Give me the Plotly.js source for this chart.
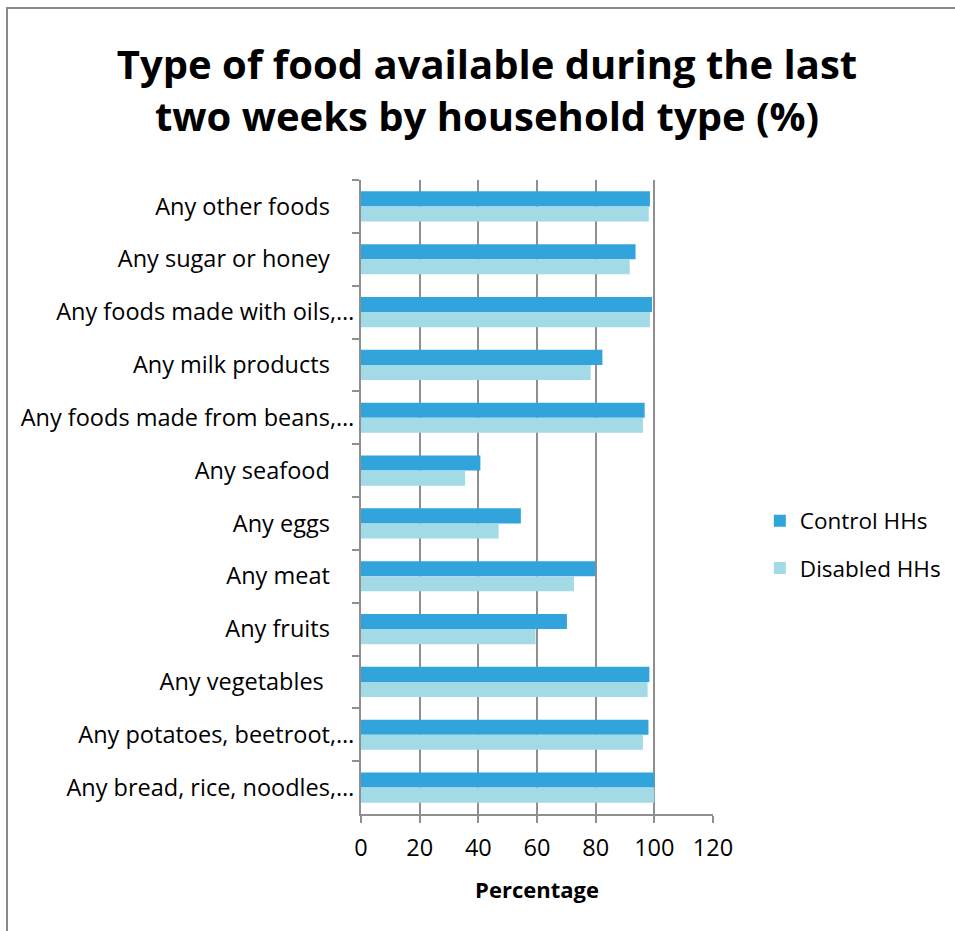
<!DOCTYPE html>
<html>
<head>
<meta charset="utf-8">
<script src="https://cdn.plot.ly/plotly-3.0.1.min.js"></script>
<style>
  html, body { margin: 0; padding: 0; background: #ffffff; }
  #chart { position: absolute; left: 0; top: 0; width: 955px; height: 931px; }
  #frame { position: absolute; left: 6px; top: 7px; width: 1000px; height: 1000px;
           border-left: 2px solid #8a8a8a; border-top: 2px solid #8a8a8a; pointer-events: none; }
</style>
</head>
<body>
<div id="chart"></div>
<div id="frame"></div>
<script>
// Categories listed top to bottom as in the reference
const NB = '\u00a0';
const categories = [
  'Any other foods' + NB.repeat(4),
  'Any sugar or honey' + NB.repeat(4),
  'Any foods made with oils,\u2026',
  'Any milk products' + NB.repeat(4),
  'Any foods made from beans,\u2026',
  'Any seafood' + NB.repeat(4),
  'Any eggs' + NB.repeat(4),
  'Any meat' + NB.repeat(4),
  'Any fruits' + NB.repeat(4),
  'Any vegetables' + NB.repeat(5),
  'Any potatoes, beetroot,\u2026',
  'Any bread, rice, noodles,\u2026'
];
const controlHHs  = [98.5, 93.6, 99.2, 82.3, 96.7, 40.7, 54.5, 79.9, 70.2, 98.3, 98.0, 100];
const disabledHHs = [98.1, 91.6, 98.5, 78.3, 96.1, 35.5, 46.9, 72.6, 59.5, 97.7, 96.1, 100];
const seriesNames = ['Control HHs', 'Disabled HHs'];
const xTicks = [0, 20, 40, 60, 80, 100, 120];

const FONT = '"Open Sans", Lato, sans-serif';
const GRID = '#8f8f8f';

const traces = [
  { type: 'bar', orientation: 'h', name: seriesNames[0], y: categories, x: controlHHs,
    marker: { color: '#31a4dc' }, legendgroup: 'a', hoverinfo: 'x+y' },
  { type: 'bar', orientation: 'h', name: seriesNames[1], y: categories, x: disabledHHs,
    marker: { color: '#a2dae6' }, legendgroup: 'b', hoverinfo: 'x+y' }
];

const layout = {
  width: 955, height: 931,
  paper_bgcolor: 'rgba(0,0,0,0)', plot_bgcolor: '#ffffff',
  margin: { l: 361, r: 242, t: 180, b: 117, pad: 0, autoexpand: false },
  font: { family: FONT, color: '#000000', size: 22 },
  title: {
    text: 'Type of food available during the last<br>two weeks by household type (%)',
    font: { family: FONT, size: 40, color: '#000000', weight: 'bold' },
    x: 0.51, xanchor: 'center', xref: 'container',
    y: 0.915, yanchor: 'middle', yref: 'container'
  },
  barmode: 'group', bargap: 0.43, bargroupgap: 0,
  xaxis: {
    range: [0, 120], tickvals: xTicks, ticktext: xTicks.map(String),
    showgrid: true, gridcolor: GRID, gridwidth: 2,
    zeroline: false, showline: true, linecolor: GRID, linewidth: 2,
    ticks: 'outside', ticklen: 7, tickwidth: 2, tickcolor: GRID,
    ticklabelstandoff: 5,
    tickfont: { family: FONT, size: 23.5, color: '#000000' },
    title: { text: 'Percentage', font: { family: FONT, size: 22, color: '#000000', weight: 'bold' }, standoff: 20 },
    fixedrange: true
  },
  yaxis: {
    type: 'category', autorange: 'reversed',
    showgrid: false, zeroline: false, showline: true, linecolor: GRID, linewidth: 2,
    ticks: 'outside', tickson: 'boundaries', ticklen: 7, tickwidth: 2, tickcolor: GRID,
    tickfont: { family: FONT, size: 23.5, color: '#000000' },
    fixedrange: true
  },
  showlegend: true,
  legend: {
    x: 1.133, xanchor: 'left', y: 0.425, yanchor: 'middle',
    traceorder: 'grouped', tracegroupgap: 15,
    font: { family: FONT, size: 22.5, color: '#000000' },
    bgcolor: 'rgba(0,0,0,0)', borderwidth: 0
  }
};

Plotly.newPlot('chart', traces, layout, { displayModeBar: false, staticPlot: true });
</script>
</body>
</html>
